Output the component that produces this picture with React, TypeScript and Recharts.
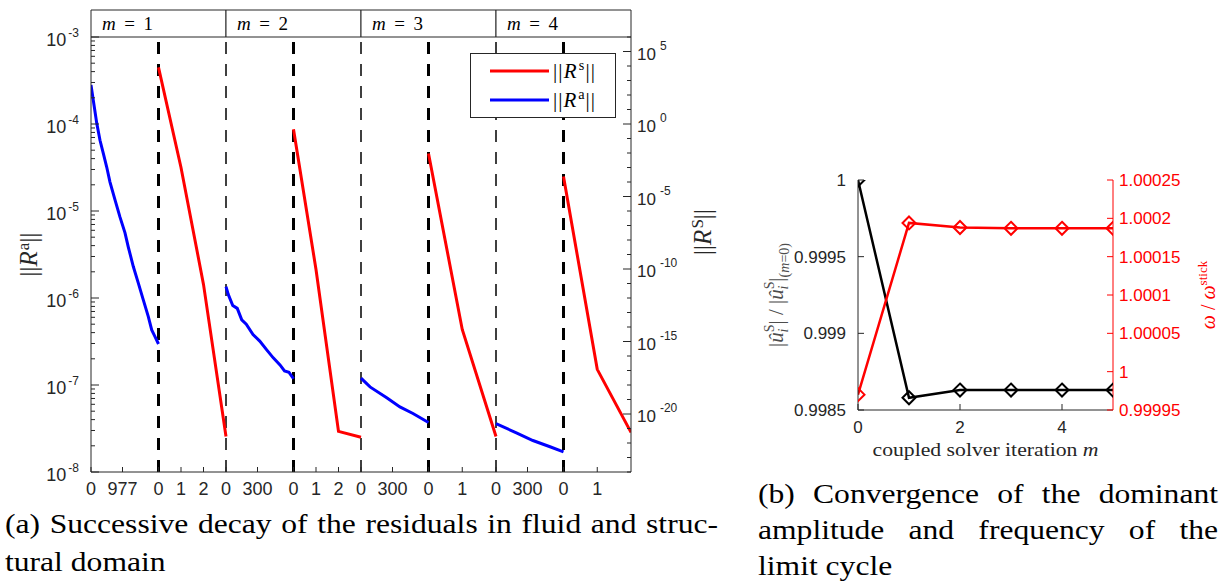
import React from 'react';
import { LineChart, Line, XAxis, YAxis, ReferenceLine, ReferenceArea, Legend } from 'recharts';

const SANS = '"Liberation Sans", Arial, Helvetica, sans-serif';
const SERIF = '"Liberation Serif", "Times New Roman", serif';
const AXIS = '#262626';
const RED = '#ff0000';
const BLUE = '#0000ff';

// ================= Panel (a): residual decay =================
// x axis: concatenated iteration segments (axis units), tick positions and their labels
const xTickPositions = [0, 1.4, 3, 4, 5, 6, 7.4, 9, 10, 11, 12, 13.4, 15, 16.5, 18, 19.4, 21, 22.5];
const xTickLabels = ['0', '977', '0', '1', '2', '0', '300', '0', '1', '2', '0', '300', '0', '1', '0', '300', '0', '1'];

// coupling iterations shown in the header strip
const couplingIndex = [1, 2, 3, 4];
const couplingFrom = [0, 6, 12, 18];
const couplingTo = [6, 12, 18, 24];
// fluid -> structure switch (thick dashed) and structure -> fluid switch (thin dashed)
const fluidToStructure = [3, 9, 15, 21];
const structureToFluid = [6, 12, 18];

// fluid residual ||R^a|| (left axis)
const fluidX1 = [0, 0.147, 0.253, 0.4, 0.547, 0.698, 0.844, 1.067, 1.289, 1.511, 1.658, 1.88, 2.1, 2.324, 2.547, 2.698, 2.844, 3];
const fluidR1 = [2.8e-4, 1.57e-4, 1.03e-4, 6.5e-5, 4.6e-5, 3.2e-5, 2.15e-5, 1.34e-5, 8.5e-6, 5.6e-6, 3.85e-6, 2.3e-6, 1.49e-6, 9.5e-7, 6.1e-7, 4.3e-7, 3.6e-7, 2.96e-7];
const fluidX2 = [6, 6.1, 6.3, 6.5, 6.7, 6.9, 7.2, 7.5, 7.8, 8.1, 8.4, 8.6, 8.8, 9];
const fluidR2 = [1.35e-6, 1.1e-6, 8.2e-7, 7.6e-7, 5.6e-7, 5.0e-7, 3.8e-7, 3.2e-7, 2.55e-7, 2.05e-7, 1.7e-7, 1.45e-7, 1.4e-7, 1.18e-7];
const fluidX3 = [12, 12.4, 13.16, 13.73, 14.31, 15];
const fluidR3 = [1.2e-7, 9.5e-8, 7.1e-8, 5.6e-8, 4.7e-8, 3.7e-8];
const fluidX4 = [18, 18.93, 19.64, 20.4, 21];
const fluidR4 = [3.6e-8, 2.8e-8, 2.3e-8, 1.95e-8, 1.7e-8];

// structural residual ||R^s|| (right axis)
const structX1 = [3, 4, 5, 6];
const structR1 = [8e3, 1e-3, 8.7e-12, 2.8e-22];
const structX2 = [9, 10, 11, 12];
const structR2 = [0.43, 9.3e-11, 6.3e-22, 2.5e-22];
const structX3 = [15, 16.5, 18];
const structR3 = [9.3e-3, 6.8e-15, 2.8e-22];
const structX4 = [21, 22.5, 24];
const structR4 = [2.4e-4, 1.2e-17, 5.4e-22];

const zip = (xs: number[], ys: number[]) => xs.map((x, i) => ({ x, y: ys[i] }));
const fluidSegments = [zip(fluidX1, fluidR1), zip(fluidX2, fluidR2), zip(fluidX3, fluidR3), zip(fluidX4, fluidR4)];
const structSegments = [zip(structX1, structR1), zip(structX2, structR2), zip(structX3, structR3), zip(structX4, structR4)];

// log axis ticks
const raDecades = [-8, -7, -6, -5, -4, -3];
const raTicks: number[] = [];
raDecades.forEach((e) => {
  raTicks.push(Math.pow(10, e));
  if (e < -3) for (let k = 2; k <= 9; k++) raTicks.push(k * Math.pow(10, e));
});
const rsDecades: number[] = [];
for (let e = -24; e <= 6; e++) rsDecades.push(e);
const rsTicks = rsDecades.map((e) => Math.pow(10, e));

const isMajorDecade = (v: number) => {
  const l = Math.log10(v);
  return Math.abs(l - Math.round(l)) < 1e-6;
};

const LeftLogTick = (p: any) => {
  const { x, y, payload } = p;
  const v = payload.value;
  const major = isMajorDecade(v);
  const e = Math.round(Math.log10(v));
  return (
    <g>
      <line x1={x} x2={x + (major ? 8 : 4)} y1={y} y2={y} stroke={AXIS} strokeWidth={1} />
      {major && (
        <text x={x - 12} y={y + 9} textAnchor="end" fontFamily={SANS} fontSize={18} fill={AXIS}>
          10
          <tspan dx={2} dy={-9} fontSize={12}>{String(e)}</tspan>
        </text>
      )}
    </g>
  );
};

const RightLogTick = (p: any) => {
  const { x, y, payload } = p;
  const e = Math.round(Math.log10(payload.value));
  const major = e % 5 === 0;
  return (
    <g>
      <line x1={x} x2={x - (major ? 8 : 4)} y1={y} y2={y} stroke={AXIS} strokeWidth={1} />
      {major && (
        <text x={x + 6} y={y + 8} textAnchor="start" fontFamily={SANS} fontSize={17} fill={AXIS}>
          10
          <tspan dx={4} dy={-10} fontSize={12}>{String(e)}</tspan>
        </text>
      )}
    </g>
  );
};

const BottomTick = (p: any) => {
  const { x, y, payload } = p;
  const idx = xTickPositions.indexOf(payload.value);
  return (
    <g>
      <line x1={x} x2={x} y1={y} y2={y - 5} stroke={AXIS} strokeWidth={1} />
      <text x={x} y={y + 23} textAnchor="middle" fontFamily={SANS} fontSize={18} fill={AXIS}>
        {idx >= 0 ? xTickLabels[idx] : ''}
      </text>
    </g>
  );
};

const NormLabel = ({ sup }: { sup: string }) => (
  <>
    ||<tspan fontStyle="italic">R</tspan>
    <tspan dx={1} dy={-8} fontSize="0.68em">{sup}</tspan>
    <tspan dy={8}>||</tspan>
  </>
);

const LegendBox = () => (
  <div style={{ width: 146, height: 65, border: `1px solid ${AXIS}`, background: '#fff', boxSizing: 'border-box' }}>
    <svg width={144} height={63} style={{ display: 'block' }}>
      <line x1={19} x2={78} y1={17} y2={17} stroke={RED} strokeWidth={3} />
      <line x1={19} x2={78} y1={46} y2={46} stroke={BLUE} strokeWidth={3} />
      <text x={82} y={24} fontFamily={SERIF} fontSize={21} fill="#000" textLength={42} lengthAdjust="spacing"><NormLabel sup="s" /></text>
      <text x={82} y={53} fontFamily={SERIF} fontSize={21} fill="#000" textLength={42} lengthAdjust="spacing"><NormLabel sup="a" /></text>
    </svg>
  </div>
);

const headerTop = Math.pow(10, -3 + 27 / 87);

const PanelA = () => (
  <LineChart width={720} height={500} margin={{ top: 37, right: 0, bottom: 0, left: 0 }}>
    <XAxis
      dataKey="x"
      type="number"
      domain={[0, 24]}
      ticks={xTickPositions}
      interval={0}
      allowDataOverflow
      tickLine={false}
      tickSize={0}
      tickMargin={0}
      height={28}
      stroke={AXIS}
      tick={(p: any) => <BottomTick {...p} />}
    />
    <YAxis
      yAxisId="a"
      scale="log"
      domain={[1e-8, 1e-3]}
      ticks={raTicks}
      interval={0}
      allowDataOverflow
      tickLine={false}
      tickSize={0}
      tickMargin={0}
      width={91}
      stroke={AXIS}
      tick={(p: any) => <LeftLogTick {...p} />}
      label={{
        content: (lp: any) => {
          const vb = lp.viewBox;
          const cx = vb.x + 37;
          const cy = vb.y + vb.height / 2;
          return (
            <text x={cx} y={cy} transform={`rotate(-90, ${cx}, ${cy})`} textAnchor="middle" fontFamily={SERIF} fontSize={25} fill={AXIS}>
              <NormLabel sup="a" />
            </text>
          );
        },
      }}
    />
    <YAxis
      yAxisId="s"
      orientation="right"
      scale="log"
      domain={[1e-24, 1e6]}
      ticks={rsTicks}
      interval={0}
      allowDataOverflow
      tickLine={false}
      tickSize={0}
      tickMargin={0}
      width={89}
      stroke={AXIS}
      tick={(p: any) => <RightLogTick {...p} />}
      label={{
        content: (lp: any) => {
          const vb = lp.viewBox;
          const cx = vb.x + 80;
          const cy = 232;
          return (
            <text x={cx} y={cy} transform={`rotate(-90, ${cx}, ${cy})`} textAnchor="middle" fontFamily={SERIF} fontSize={25} fill={AXIS}>
              <NormLabel sup="S" />
            </text>
          );
        },
      }}
    />
    {couplingIndex.map((m, i) => (
      <ReferenceArea
        key={`hdr-${m}`}
        yAxisId="a"
        x1={couplingFrom[i]}
        x2={couplingTo[i]}
        y1={1e-3}
        y2={headerTop}
        ifOverflow="visible"
        fill="#fff"
        fillOpacity={1}
        stroke={AXIS}
        strokeWidth={1}
        label={{
          content: (lp: any) => {
            const vb = lp.viewBox;
            return (
              <text x={vb.x + 11} y={vb.y + 20} fontFamily={SERIF} fontSize={19} fill="#000" textLength={51} lengthAdjust="spacing">
                <tspan fontStyle="italic">m</tspan> = {m}
              </text>
            );
          },
        }}
      />
    ))}
    {structureToFluid.map((v) => (
      <ReferenceLine key={`sf-${v}`} yAxisId="a" x={v} stroke="#000" strokeWidth={1.5} strokeDasharray="12 10" />
    ))}
    {fluidToStructure.map((v) => (
      <ReferenceLine key={`fs-${v}`} yAxisId="a" x={v} stroke="#000" strokeWidth={3} strokeDasharray="12 10" />
    ))}
    {fluidSegments.map((seg, i) => (
      <Line
        key={`fl-${i}`}
        yAxisId="a"
        data={seg}
        dataKey="y"
        stroke={BLUE}
        strokeWidth={3}
        dot={false}
        isAnimationActive={false}
        legendType="none"
      />
    ))}
    {structSegments.map((seg, i) => (
      <Line
        key={`st-${i}`}
        yAxisId="s"
        data={seg}
        dataKey="y"
        stroke={RED}
        strokeWidth={3}
        dot={false}
        isAnimationActive={false}
        legendType="none"
      />
    ))}
    <Legend
      layout="vertical"
      align="center"
      verticalAlign="middle"
      wrapperStyle={{ left: 470, top: 53, width: 146, height: 65 }}
      content={() => <LegendBox />}
    />
  </LineChart>
);

// ================= Panel (b): convergence =================
const iterations = [0, 1, 2, 3, 4, 5];
const amplitudeRatio = [1, 0.99858, 0.99863, 0.99863, 0.99863, 0.99863];
const frequencyRatio = [0.99997, 1.000194, 1.000188, 1.000187, 1.000187, 1.000187];
const couplingData = iterations.map((m, i) => ({ m, amp: amplitudeRatio[i], freq: frequencyRatio[i] }));

const ampTicks = [0.9985, 0.999, 0.9995, 1];
const freqTicks = [0.99995, 1, 1.00005, 1.0001, 1.00015, 1.0002, 1.00025];
const iterTicks = [0, 2, 4];

const fmt = (v: number) => String(Number(v.toFixed(6)));

const Diamond = (color: string) => (p: any) => {
  const { cx, cy, index } = p;
  if (cx == null || cy == null) return <g key={`d-${index}`} />;
  const w = 6.5;
  const h = 6.5;
  return (
    <polygon
      key={`d-${color}-${index}`}
      points={`${cx},${cy - h} ${cx + w},${cy} ${cx},${cy + h} ${cx - w},${cy}`}
      fill="none"
      stroke={color}
      strokeWidth={2}
    />
  );
};

const AmpTick = (p: any) => {
  const { x, y, payload } = p;
  return (
    <g>
      <line x1={x} x2={x + 6} y1={y} y2={y} stroke={AXIS} />
      <text x={x - 12} y={y + 6} textAnchor="end" fontFamily={SANS} fontSize={17} fill={AXIS}>{fmt(payload.value)}</text>
    </g>
  );
};
const FreqTick = (p: any) => {
  const { x, y, payload } = p;
  return (
    <g>
      <line x1={x} x2={x - 6} y1={y} y2={y} stroke={RED} />
      <text x={x + 6} y={y + 6} textAnchor="start" fontFamily={SANS} fontSize={17} fill={RED}>{fmt(payload.value)}</text>
    </g>
  );
};
const IterTick = (p: any) => {
  const { x, y, payload } = p;
  return (
    <g>
      <line x1={x} x2={x} y1={y} y2={y - 6} stroke={AXIS} />
      <text x={x} y={y + 23} textAnchor="middle" fontFamily={SANS} fontSize={17} fill={AXIS}>{fmt(payload.value)}</text>
    </g>
  );
};

const PanelB = () => (
  <LineChart width={482} height={320} data={couplingData} margin={{ top: 30, right: 0, bottom: 0, left: 0 }}>
    <XAxis
      dataKey="m"
      type="number"
      domain={[0, 5]}
      ticks={iterTicks}
      interval={0}
      allowDataOverflow
      tickLine={false}
      tickSize={0}
      tickMargin={0}
      height={60}
      stroke={AXIS}
      tick={(p: any) => <IterTick {...p} />}
      label={{
        content: (lp: any) => {
          const vb = lp.viewBox;
          return (
            <text x={vb.x + vb.width / 2 - 113} y={vb.y + 46} fontFamily={SERIF} fontSize={19.5} fill={AXIS} textLength={226} lengthAdjust="spacingAndGlyphs">
              coupled solver iteration <tspan fontStyle="italic">m</tspan>
            </text>
          );
        },
      }}
    />
    <YAxis
      yAxisId="amp"
      domain={[0.9985, 1]}
      ticks={ampTicks}
      interval={0}
      allowDataOverflow
      tickLine={false}
      tickSize={0}
      tickMargin={0}
      width={118}
      stroke={AXIS}
      tick={(p: any) => <AmpTick {...p} />}
      label={{
        content: (lp: any) => {
          const vb = lp.viewBox;
          const cx = vb.x + 43;
          const cy = vb.y + vb.height / 2;
          return (
            <text x={cx} y={cy} transform={`rotate(-90, ${cx}, ${cy})`} textAnchor="middle" fontFamily={SERIF} fontSize={21} fill="#4d4d4d">
              |<tspan fontStyle="italic">û</tspan>
              <tspan dy={-9} fontSize={14}>S</tspan>
              <tspan dx={-8} dy={14} fontSize={14} fontStyle="italic">i</tspan>
              <tspan dx={4} dy={-5}>| / |</tspan>
              <tspan fontStyle="italic">û</tspan>
              <tspan dy={-9} fontSize={14}>S</tspan>
              <tspan dx={-8} dy={14} fontSize={14} fontStyle="italic">i</tspan>
              <tspan dx={4} dy={-5}>|</tspan>
              <tspan dy={6} fontSize={14}>(</tspan>
              <tspan fontSize={14} fontStyle="italic">m</tspan>
              <tspan fontSize={14}>=0)</tspan>
            </text>
          );
        },
      }}
    />
    <YAxis
      yAxisId="freq"
      orientation="right"
      domain={[0.99995, 1.00025]}
      ticks={freqTicks}
      interval={0}
      allowDataOverflow
      tickLine={false}
      tickSize={0}
      tickMargin={0}
      width={109}
      stroke={RED}
      tick={(p: any) => <FreqTick {...p} />}
      label={{
        content: (lp: any) => {
          const vb = lp.viewBox;
          const cx = vb.x + 102;
          const cy = vb.y + vb.height / 2;
          return (
            <text x={cx} y={cy} transform={`rotate(-90, ${cx}, ${cy})`} textAnchor="middle" fontFamily={SERIF} fontSize={20} fill={RED}>
              <tspan fontStyle="italic">ω</tspan> / <tspan fontStyle="italic">ω</tspan>
              <tspan dy={-8} fontSize={13}>stick</tspan>
            </text>
          );
        },
      }}
    />
    <Line yAxisId="amp" dataKey="amp" stroke="#000" strokeWidth={2.5} dot={Diamond('#000')} isAnimationActive={false} />
    <Line yAxisId="freq" dataKey="freq" stroke={RED} strokeWidth={2.5} dot={Diamond(RED)} isAnimationActive={false} />
  </LineChart>
);

// ================= Captions =================
const captionA = ['(a) Successive decay of the residuals in fluid and struc-', 'tural domain'];
const captionB = ['(b) Convergence of the dominant', 'amplitude and frequency of the', 'limit cycle'];

const STRETCH = 1.17;
const CaptionLine = ({ text, left, baseline, width, justify }: { text: string; left: number; baseline: number; width: number; justify: boolean }) => (
  <div
    style={{
      position: 'absolute',
      left,
      top: baseline - 24,
      width: width / STRETCH,
      height: 30,
      lineHeight: '30px',
      fontFamily: SERIF,
      fontSize: 27,
      color: '#000',
      whiteSpace: justify ? 'normal' : 'nowrap',
      textAlign: justify ? 'justify' : 'left',
      textAlignLast: justify ? 'justify' : 'left',
      transform: `scaleX(${STRETCH})`,
      transformOrigin: '0 0',
    } as React.CSSProperties}
  >
    {text}
  </div>
);

const Captions = () => (
  <>
    <CaptionLine text={captionA[0]} left={5} baseline={533} width={713} justify />
    <CaptionLine text={captionA[1]} left={5} baseline={571} width={300} justify={false} />
    <CaptionLine text={captionB[0]} left={758} baseline={503} width={460} justify />
    <CaptionLine text={captionB[1]} left={758} baseline={539} width={460} justify />
    <CaptionLine text={captionB[2]} left={758} baseline={575} width={300} justify={false} />
  </>
);

export default function App() {
  return (
    <div style={{ position: 'absolute', left: 0, top: 0, width: 1222, height: 583, background: '#fff', overflow: 'hidden' }}>
      <div style={{ position: 'absolute', left: 0, top: 0 }}>
        <PanelA />
      </div>
      <div style={{ position: 'absolute', left: 740, top: 150 }}>
        <PanelB />
      </div>
      <Captions />
    </div>
  );
}
